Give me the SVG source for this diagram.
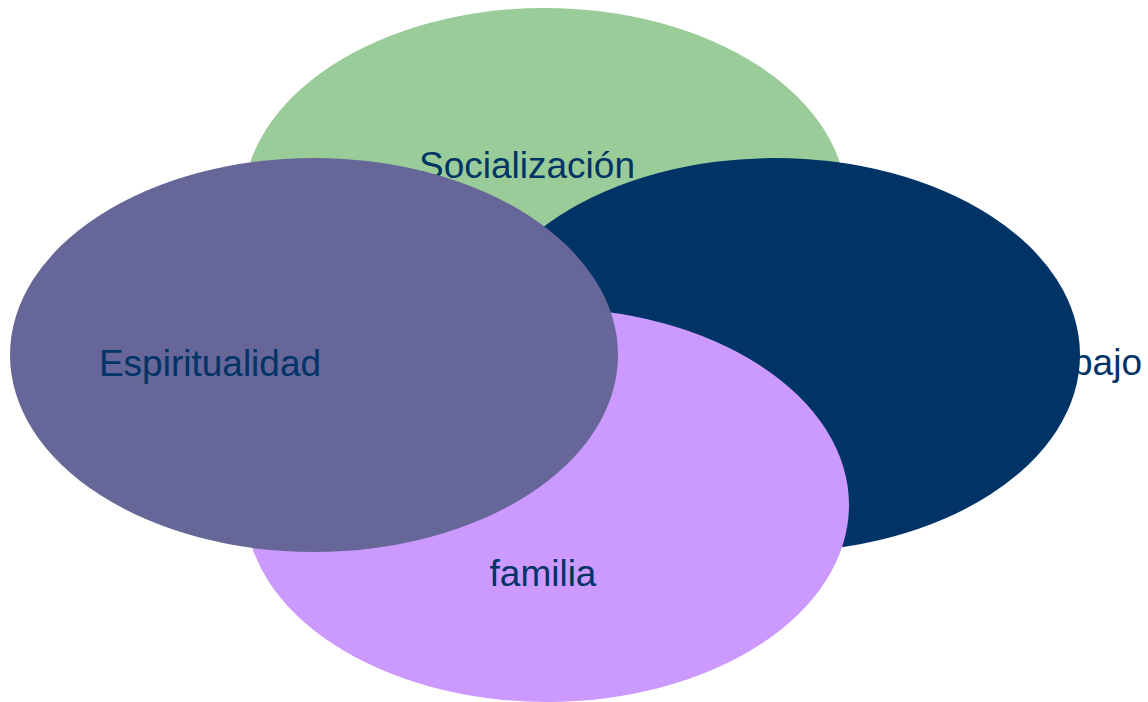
<svg xmlns="http://www.w3.org/2000/svg" width="1148" height="702" viewBox="0 0 1148 702">
<style>
text{font-family:"Liberation Sans",Arial,sans-serif;font-size:37px;fill:#003366}
</style>
<rect width="1148" height="702" fill="#ffffff"/>
<g id="socializacion">
<ellipse cx="545" cy="205" rx="302" ry="197" fill="#99CC99"/>
<text x="527" y="178" text-anchor="middle">Socialización</text>
</g>
<g id="trabajo">
<ellipse cx="775" cy="355" rx="305" ry="197" fill="#003366"/>
<text x="1142" y="375" text-anchor="end">Trabajo</text>
</g>
<g id="familia">
<ellipse cx="547" cy="505" rx="302" ry="197" fill="#CC99FF"/>
<text x="543" y="586" text-anchor="middle">familia</text>
</g>
<g id="espiritualidad">
<ellipse cx="314" cy="355" rx="304" ry="197" fill="#666699"/>
<text x="210" y="376" text-anchor="middle">Espiritualidad</text>
</g>
<g id="connectors"/>
</svg>
